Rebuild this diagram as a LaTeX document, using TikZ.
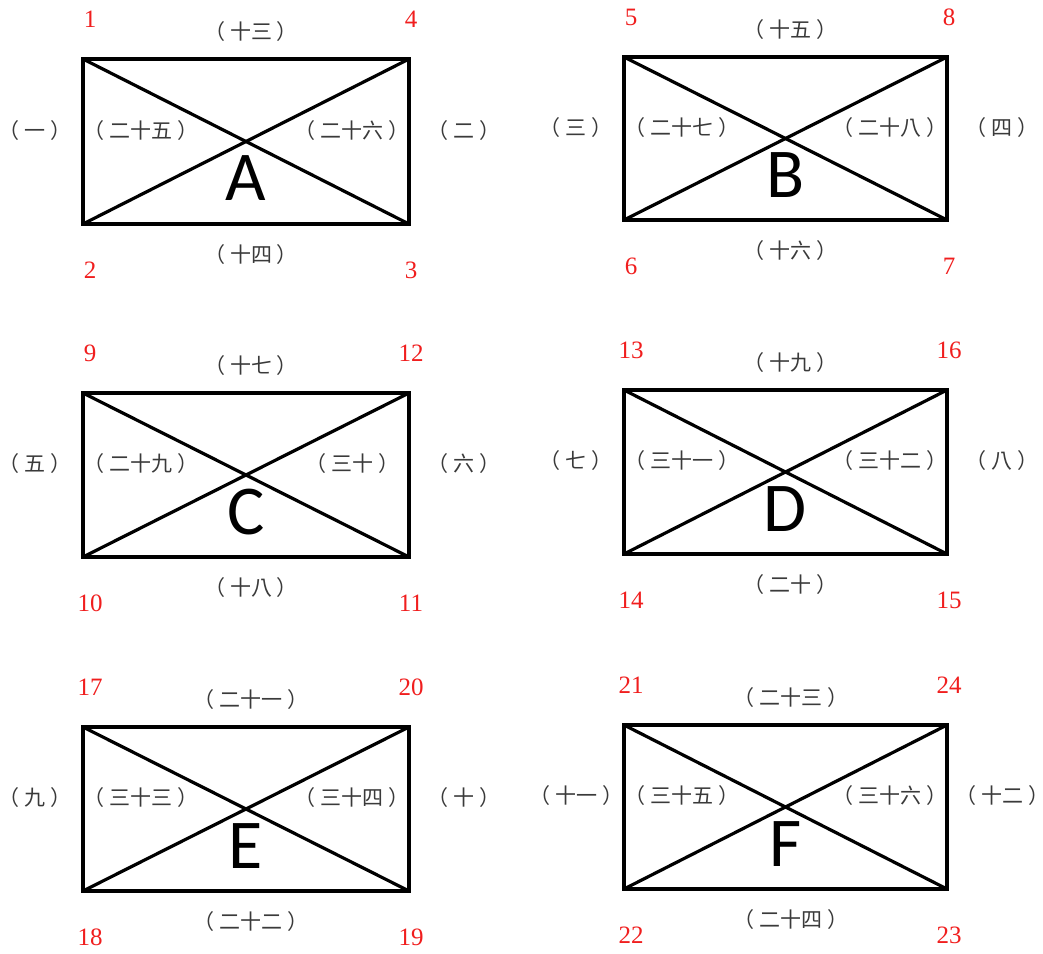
\documentclass[tikz,border=0pt]{standalone}
\usepackage{fontspec}
\setmainfont{Liberation Serif}
\newfontfamily\cjk{Noto Sans CJK TC}
\newfontfamily\latf{Carlito}
\definecolor{txtgray}{HTML}{3A3A3A}
\definecolor{numred}{HTML}{F01E1E}
\newcommand\paren[1]{（\hspace{5pt}#1\hspace{5pt}）}
\begin{document}
\begin{tikzpicture}[x=1pt,y=-1pt,
  frame/.style={line width=3.6pt,line join=miter},
  diag/.style={line width=3.2pt},
  num/.style={text=numred,font=\fontsize{25}{25}\selectfont,inner sep=0pt},
  lab/.style={text=txtgray,font=\cjk\fontsize{21}{21}\selectfont,inner sep=0pt},
  big/.style={text=black,font=\latf\fontsize{70}{70}\selectfont,inner sep=0pt}]
\useasboundingbox (0,0) rectangle (1043,953);
\foreach \n/\xa/\ya/\xb/\yb/\L/\T/\B/\OL/\IL/\IR/\OR/\na/\nb/\nc/\nd in {
  A/83/59/409/224/A/十三/十四/一/二十五/二十六/二/1/2/3/4,
  B/624/57/947/220/B/十五/十六/三/二十七/二十八/四/5/6/7/8,
  C/83/393/409/557/C/十七/十八/五/二十九/三十/六/9/10/11/12,
  D/624/390/947/554/D/十九/二十/七/三十一/三十二/八/13/14/15/16,
  E/83/727/409/891/E/二十一/二十二/九/三十三/三十四/十/17/18/19/20,
  F/624/725/947/889/F/二十三/二十四/十一/三十五/三十六/十二/21/22/23/24}{
  \coordinate (\n-tl) at (\xa,\ya);
  \coordinate (\n-tr) at (\xb,\ya);
  \coordinate (\n-bl) at (\xa,\yb);
  \coordinate (\n-br) at (\xb,\yb);
  \draw[diag] (\n-tl) -- (\n-br);
  \draw[diag] (\n-bl) -- (\n-tr);
  \draw[frame] (\n-tl) rectangle (\n-br);
  \node[num] (\n-n1) at ({\xa+7},{\ya-40}) {\na};
  \node[num] (\n-n2) at ({\xa+7},{\yb+46}) {\nb};
  \node[num] (\n-n3) at ({\xb+2},{\yb+46}) {\nc};
  \node[num] (\n-n4) at ({\xb+2},{\ya-40}) {\nd};
  \node[lab] (\n-top) at ({(\xa+\xb)/2+5},{\ya-27}) {\paren{\T}};
  \node[lab] (\n-bot) at ({(\xa+\xb)/2+5},{\yb+31}) {\paren{\B}};
  \node[lab] (\n-ol) at ({\xa-48},{(\ya+\yb)/2-11}) {\paren{\OL}};
  \node[lab] (\n-il) at ({\xa+58},{(\ya+\yb)/2-11}) {\paren{\IL}};
  \node[lab] (\n-ir) at ({\xb-57},{(\ya+\yb)/2-11}) {\paren{\IR}};
  \node[lab] (\n-or) at ({\xb+55},{(\ya+\yb)/2-11}) {\paren{\OR}};
  \node[big] (\n-letter) at ({(\xa+\xb)/2},{(\ya+\yb)/2+37}) {\L};
}
\end{tikzpicture}
\end{document}
